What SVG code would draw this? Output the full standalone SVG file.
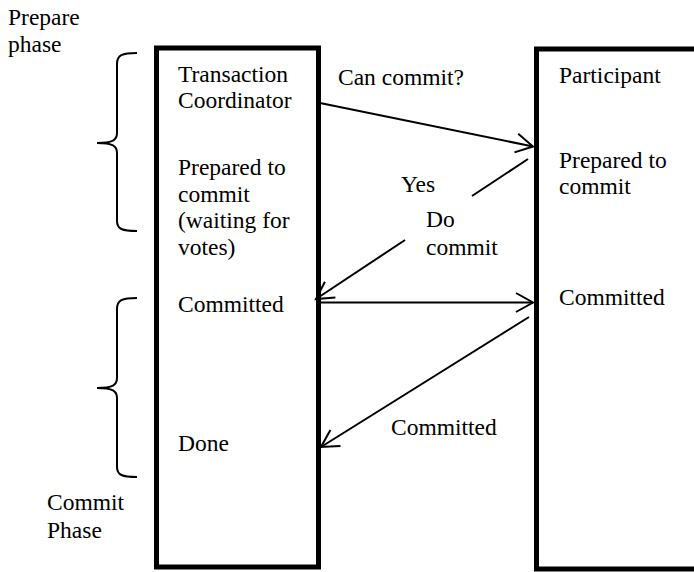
<svg xmlns="http://www.w3.org/2000/svg" width="694" height="572" viewBox="0 0 694 572">
  <defs>
    <style>
      .lbl { font-family: 'Times New Roman', 'Liberation Serif', Times, 'DejaVu Serif', serif; font-size: 23.5px; fill: #000; }
      .box { fill: #fff; stroke: #000; stroke-width: 5; }
      .msg { fill: none; stroke: #000; stroke-width: 2; }
      .brace { fill: none; stroke: #000; stroke-width: 2; }
    </style>
    <marker id="open-arrow" markerUnits="userSpaceOnUse" markerWidth="30" markerHeight="30" viewBox="-22 -15 30 30" refX="0" refY="0" orient="auto">
      <path d="M-17,-9.5 L0,0 L-17,9.5" fill="none" stroke="#000" stroke-width="2"/>
    </marker>
  </defs>

  <rect width="694" height="572" fill="#fff"/>

  <!-- Phase braces and labels -->
  <g id="prepare-phase">
    <path class="brace" d="M137,53 C122,53 117,55 117,64 L117,133 C117,140 113,143 97,143 C113,143 117,146 117,153 L117,221 C117,229 122,231 137,231"/>
    <text class="lbl" x="8" y="25">Prepare</text>
    <text class="lbl" x="8" y="52">phase</text>
  </g>
  <g id="commit-phase">
    <path class="brace" d="M137,298 C122,298 117,300 117,309 L117,378 C117,385 113,388 97,388 C113,388 117,391 117,398 L117,467 C117,475 122,477 137,477"/>
    <text class="lbl" x="47" y="510">Commit</text>
    <text class="lbl" x="47" y="538">Phase</text>
  </g>

  <!-- Coordinator lifeline -->
  <g id="coordinator">
    <rect class="box" x="156.5" y="48" width="162" height="519"/>
    <text class="lbl" x="178" y="82">Transaction</text>
    <text class="lbl" x="178" y="108">Coordinator</text>
    <text class="lbl" x="178" y="175">Prepared to</text>
    <text class="lbl" x="178" y="202">commit</text>
    <text class="lbl" x="178" y="228">(waiting for</text>
    <text class="lbl" x="178" y="255">votes)</text>
    <text class="lbl" x="178" y="312">Committed</text>
    <text class="lbl" x="178" y="451">Done</text>
  </g>

  <!-- Participant lifeline -->
  <g id="participant">
    <rect class="box" x="536.5" y="49" width="200" height="520"/>
    <text class="lbl" x="559" y="83">Participant</text>
    <text class="lbl" x="559" y="168">Prepared to</text>
    <text class="lbl" x="559" y="194">commit</text>
    <text class="lbl" x="559" y="305">Committed</text>
  </g>

  <!-- Messages -->
  <g id="connectors">
    <line class="msg" x1="320" y1="103" x2="533" y2="146.5" marker-end="url(#open-arrow)"/>
    <line class="msg" x1="528" y1="159" x2="472" y2="196"/>
    <line class="msg" x1="405" y1="240" x2="316" y2="299" marker-end="url(#open-arrow)"/>
    <line class="msg" x1="319" y1="302.5" x2="533" y2="302.5" marker-end="url(#open-arrow)"/>
    <line class="msg" x1="529" y1="317" x2="321" y2="447" marker-end="url(#open-arrow)"/>
  </g>

  <!-- Message labels -->
  <g id="message-labels">
    <text class="lbl" x="338" y="85">Can commit?</text>
    <text class="lbl" x="401" y="192">Yes</text>
    <text class="lbl" x="426" y="227">Do</text>
    <text class="lbl" x="426" y="255">commit</text>
    <text class="lbl" x="391" y="435">Committed</text>
  </g>
</svg>
